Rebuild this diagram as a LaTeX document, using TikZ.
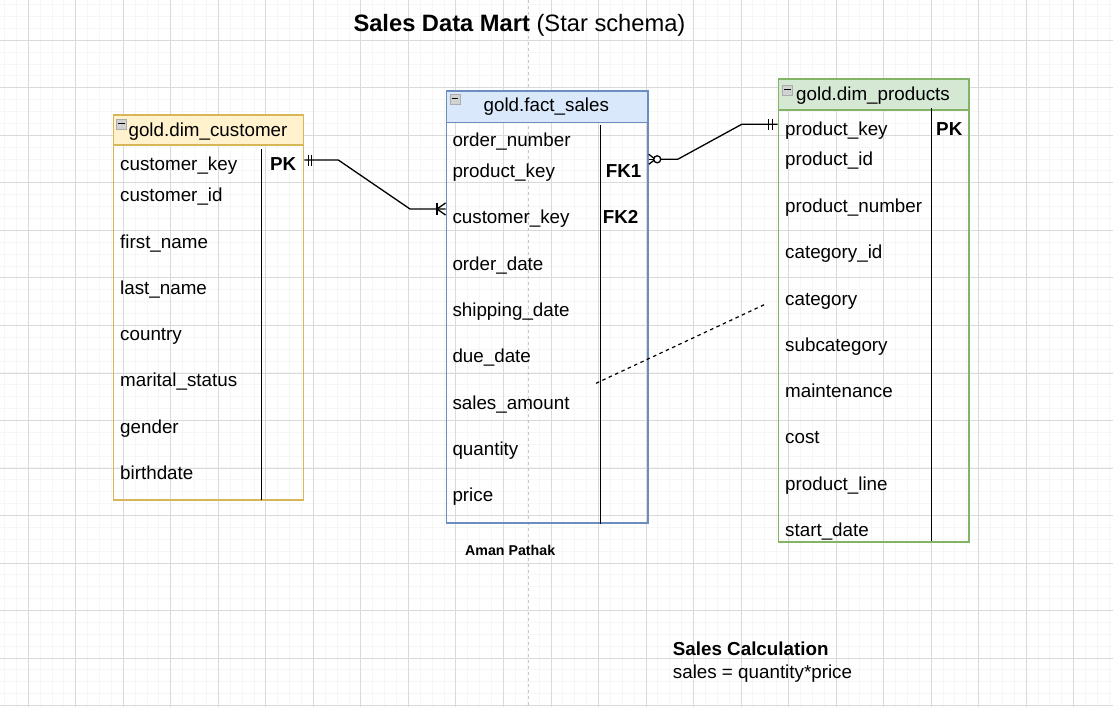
\documentclass[tikz,border=0pt]{standalone}
\usepackage{fontspec}
\setmainfont{Liberation Sans}
\definecolor{custf}{HTML}{FFF2CC}
\definecolor{custb}{HTML}{D6B656}
\definecolor{factf}{HTML}{DAE8FC}
\definecolor{factb}{HTML}{6C8EBF}
\definecolor{prodf}{HTML}{D5E8D4}
\definecolor{prodb}{HTML}{82B366}
\definecolor{gridmin}{HTML}{F6F6F6}
\definecolor{gridmaj}{HTML}{DADADA}
\begin{document}
\begin{tikzpicture}[x=1pt,y=-1pt,
  fld/.style={anchor=base west,inner sep=0pt,font=\fontsize{18.8}{22}\selectfont},
  keyfld/.style={anchor=base west,inner sep=0pt,font=\fontsize{18.8}{22}\selectfont\bfseries},
  hdr/.style={anchor=base,inner sep=0pt,font=\fontsize{18.8}{22}\selectfont},
  tbl/.style={anchor=north west,inner sep=0pt,line width=1.6pt},
  hbox/.style={anchor=north west,inner sep=0pt,line width=1.6pt},
  divider/.style={line width=1.3pt,black},
  icon/.style={fill=gray!35,draw=gray!65,line width=0.6pt},
  conn/.style={line width=1.3pt,black,line join=round},
  ermark/.style={line width=1.3pt,black}]
\useasboundingbox (0,0) rectangle (1113,707);
\fill[white] (0,0) rectangle (1113,707);
% grid
\begin{scope}
\clip (0,0) rectangle (1113,707);
\foreach \i in {0,...,94} {\draw[gridmin,line width=1pt] ({4.54+11.88*\i},0) -- ++(0,707);}
\foreach \i in {0,...,60} {\draw[gridmin,line width=1pt] (0,{4.66+11.88*\i}) -- ++(1113,0);}
\foreach \i in {0,...,23} {\draw[gridmaj,line width=1pt] ({28.3+47.52*\i},0) -- ++(0,707);}
\foreach \i in {0,...,14} {\draw[gridmaj,line width=1pt] (0,{40.3+47.53*\i}) -- ++(1113,0);}
\draw[gray!45,line width=1.3pt,dash pattern=on 3pt off 3pt] (528.2,0) -- (528.2,707);
\end{scope}

% title
\node[anchor=base west,inner sep=0pt,font=\fontsize{23.7}{28}\selectfont] (title) at (353.3,31.5) {\textbf{Sales Data Mart} (Star schema)};

% ===== customer table =====
\node[hbox,fill=custf,draw=custb,minimum width=190pt,minimum height=30.3pt] (custh) at (112.7,114) {};
\node[tbl,draw=custb,minimum width=190pt,minimum height=385.3pt] (cust) at (112.7,114) {};
\draw[icon] (116.5,118.8) rectangle (126.5,128.8);
\draw[black,line width=1.2pt] (118.2,123.8) -- (124.8,123.8);
\node[hdr] (custt) at (208,136) {gold.dim\_customer};
\draw[divider] (261.3,149.3) -- (261.3,500);
\node[fld] (c1) at (120,170.3) {customer\_key};
\node[fld] (c2) at (120,201.8) {customer\_id};
\node[fld] (c3) at (120,248) {first\_name};
\node[fld] (c4) at (120,294.2) {last\_name};
\node[fld] (c5) at (120,340.4) {country};
\node[fld] (c6) at (120,386.8) {marital\_status};
\node[fld] (c7) at (120,433.2) {gender};
\node[fld] (c8) at (120,479.2) {birthdate};
\node[keyfld] (cpk) at (270,170.3) {PK};

% ===== fact table =====
\node[hbox,fill=factf,draw=factb,minimum width=201.7pt,minimum height=31.7pt] (facth) at (445.5,90) {};
\node[tbl,draw=factb,minimum width=201.7pt,minimum height=432.3pt] (fact) at (445.5,90) {};
\draw[icon] (450,93.8) rectangle (460,103.8);
\draw[black,line width=1.2pt] (451.7,98.8) -- (458.3,98.8);
\node[hdr] (factt) at (546.3,111.7) {gold.fact\_sales};
\draw[divider] (600.3,125) -- (600.3,524);
\node[fld] (f1) at (452.3,146.8) {order\_number};
\node[fld] (f2) at (452.3,177.3) {product\_key};
\node[fld] (f3) at (452.3,223.3) {customer\_key};
\node[fld] (f4) at (452.3,270.3) {order\_date};
\node[fld] (f5) at (452.3,316.7) {shipping\_date};
\node[fld] (f6) at (452.3,362.8) {due\_date};
\node[fld] (f7) at (452.3,409.3) {sales\_amount};
\node[fld] (f8) at (452.3,455) {quantity};
\node[fld] (f9) at (452.3,501.5) {price};
\node[keyfld] (ffk1) at (605.7,177.3) {FK1};
\node[keyfld] (ffk2) at (602.7,223.3) {FK2};

% ===== products table =====
\node[hbox,fill=prodf,draw=prodb,minimum width=190.6pt,minimum height=31pt] (prodh) at (777.7,78.3) {};
\node[tbl,draw=prodb,minimum width=190.6pt,minimum height=462.7pt] (prod) at (777.7,78.3) {};
\draw[icon] (782.7,84.8) rectangle (792.7,94.8);
\draw[black,line width=1.2pt] (784.4,89.8) -- (791,89.8);
\node[hdr] (prodt) at (873,100.3) {gold.dim\_products};
\draw[divider] (931.7,108) -- (931.7,541);
\node[fld] (p1) at (785,135) {product\_key};
\node[fld] (p2) at (785,165.7) {product\_id};
\node[fld] (p3) at (785,212.4) {product\_number};
\node[fld] (p4) at (785,258.7) {category\_id};
\node[fld] (p5) at (785,305) {category};
\node[fld] (p6) at (785,351) {subcategory};
\node[fld] (p7) at (785,397.3) {maintenance};
\node[fld] (p8) at (785,443.5) {cost};
\node[fld] (p9) at (785,490) {product\_line};
\node[fld] (p10) at (785,536) {start\_date};
\node[keyfld] (ppk) at (936,135) {PK};

% ===== connectors =====
% customer PK -> fact customer_key
\coordinate (e1s) at (cust.east |- 0,160);
\coordinate (e1a) at (338.3,160);
\coordinate (e1b) at (410,209);
\coordinate (e1e) at (fact.west |- 0,209);
\draw[conn] (e1s) -- (e1a) -- (e1b) -- (e1e);
\draw[ermark] ([xshift=4pt]e1s) ++(0,-5.5) -- ++(0,11);
\draw[ermark] ([xshift=7.5pt]e1s) ++(0,-5.5) -- ++(0,11);
\draw[ermark] ([xshift=-8.5pt]e1e) ++(0,-6) -- ++(0,12);
\draw[ermark] ([xshift=-8.5pt]e1e) -- ([yshift=-6pt]e1e);
\draw[ermark] ([xshift=-8.5pt]e1e) -- ([yshift=6pt]e1e);

% fact product_key -> product PK
\coordinate (e2s) at (fact.east |- 0,159.3);
\coordinate (e2c) at (657.2,159.3);
\coordinate (e2a) at (677.7,159.3);
\coordinate (e2b) at (741.7,124.3);
\coordinate (e2e) at (prod.west |- 0,124.3);
\draw[conn] (660.7,159.3) -- (e2a) -- (e2b) -- (e2e);
\draw[ermark] ([xshift=6.5pt]e2s) -- ([yshift=-5pt]e2s);
\draw[ermark] ([xshift=6.5pt]e2s) -- ([yshift=5pt]e2s);
\draw[ermark] (e2s) -- ([xshift=6.5pt]e2s);
\draw[ermark,fill=white] (e2c) circle (3.5pt);
\draw[ermark] ([xshift=-9.5pt]e2e) ++(0,-5.5) -- ++(0,11);
\draw[ermark] ([xshift=-5pt]e2e) ++(0,-5.5) -- ++(0,11);

% dashed link
\coordinate (d1) at (596,383.3);
\coordinate (d2) at (765.7,304);
\draw[line width=1.2pt,black,dash pattern=on 3.5pt off 3.5pt] (d1) -- (d2);

% notes
\node[anchor=base west,inner sep=0pt,font=\fontsize{14.2}{17}\selectfont\bfseries] (author) at (465,555) {Aman Pathak};
\node[keyfld] (calc) at (672.7,655) {Sales Calculation};
\node[fld] (calcf) at (672.7,678.3) {sales = quantity*price};
\end{tikzpicture}
\end{document}
